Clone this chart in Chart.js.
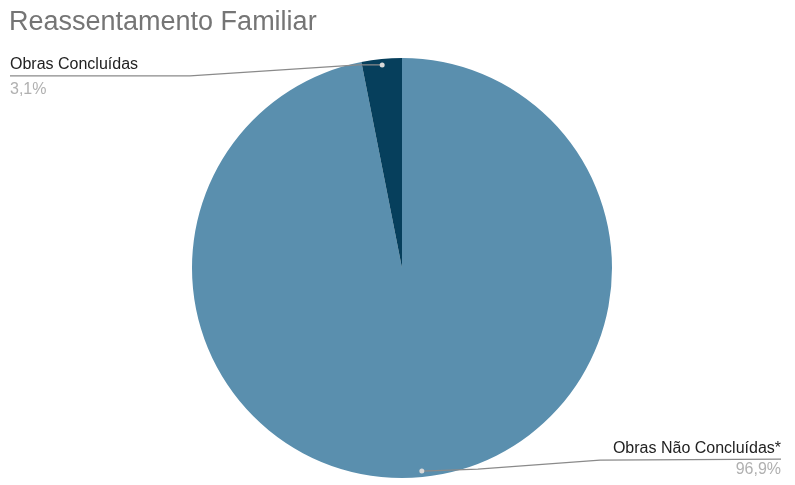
<!DOCTYPE html>
<html>
<head>
<meta charset="utf-8">
<script src="https://cdn.jsdelivr.net/npm/chart.js@4.4.0/dist/chart.umd.min.js"></script>
<style>
  html, body { margin: 0; padding: 0; background: #fff; }
  #wrap { width: 795px; height: 485px; position: relative; }
</style>
</head>
<body>
<div id="wrap"><canvas id="myChart" width="795" height="485"></canvas></div>
<script>
// dados do gráfico
var titulo = 'Reassentamento Familiar';
var categorias = ['Obras Não Concluídas*', 'Obras Concluídas'];
var valores = [96.9, 3.1];
var rotulosPct = ['96,9%', '3,1%'];
var cores = ['#5a8fae', '#063f5c'];

var fonte = '"Liberation Sans", Arial, sans-serif';

// rótulos com linha de chamada, desenhados depois das fatias
var rotulosPlugin = {
  id: 'rotulos',
  afterDraw: function(chart) {
    var ctx = chart.ctx;
    var meta = chart.getDatasetMeta(0);

    ctx.save();
    // título
    ctx.font = '27px ' + fonte;
    ctx.fillStyle = '#757575';
    ctx.textAlign = 'left';
    ctx.textBaseline = 'alphabetic';
    ctx.fillText(titulo, 9, 30);

    meta.data.forEach(function(arc, i) {
      var mid = (arc.startAngle + arc.endAngle) / 2;
      var r = arc.outerRadius - 6;
      var px = arc.x + Math.cos(mid) * r;
      var py = arc.y + Math.sin(mid) * r;

      ctx.strokeStyle = '#8a8a8a';
      ctx.lineWidth = 1.2;
      ctx.beginPath();
      if (i === 1) {
        // esquerda, em cima
        ctx.moveTo(px, py);
        ctx.lineTo(px - 24, py);
        ctx.lineTo(190, py + 11);
        ctx.lineTo(10, py + 11);
      } else {
        // direita, embaixo
        ctx.moveTo(px, py);
        ctx.lineTo(px + 56, py - 2);
        ctx.lineTo(600, py - 11);
        ctx.lineTo(781, py - 12);
      }
      ctx.stroke();

      ctx.fillStyle = '#d9d9d9';
      ctx.beginPath();
      ctx.arc(px, py, 2.5, 0, Math.PI * 2);
      ctx.fill();

      ctx.font = '16px ' + fonte;
      if (i === 1) {
        ctx.textAlign = 'left';
        ctx.fillStyle = '#222';
        ctx.fillText(categorias[i], 10, py + 4);
        ctx.fillStyle = '#b0b0b0';
        ctx.fillText(rotulosPct[i], 10, py + 29);
      } else {
        ctx.textAlign = 'right';
        ctx.fillStyle = '#222';
        ctx.fillText(categorias[i], 781, py - 18);
        ctx.fillStyle = '#b0b0b0';
        ctx.fillText(rotulosPct[i], 781, py + 3);
      }
    });
    ctx.restore();
  }
};

function getChart() {
  var ctx = document.getElementById('myChart').getContext('2d');
  var myChart = new Chart(ctx, {
    type: 'pie',
    data: {
      labels: categorias,
      datasets: [{
        data: valores,
        backgroundColor: cores,
        borderWidth: 0,
        hoverOffset: 0
      }]
    },
    options: {
      responsive: false,
      animation: false,
      layout: {
        padding: { top: 58, bottom: 7, left: 192, right: 183 }
      },
      plugins: {
        legend: { display: false },
        tooltip: { enabled: false },
        title: { display: false }
      }
    },
    plugins: [rotulosPlugin]
  });
}

getChart();
</script>
</body>
</html>
